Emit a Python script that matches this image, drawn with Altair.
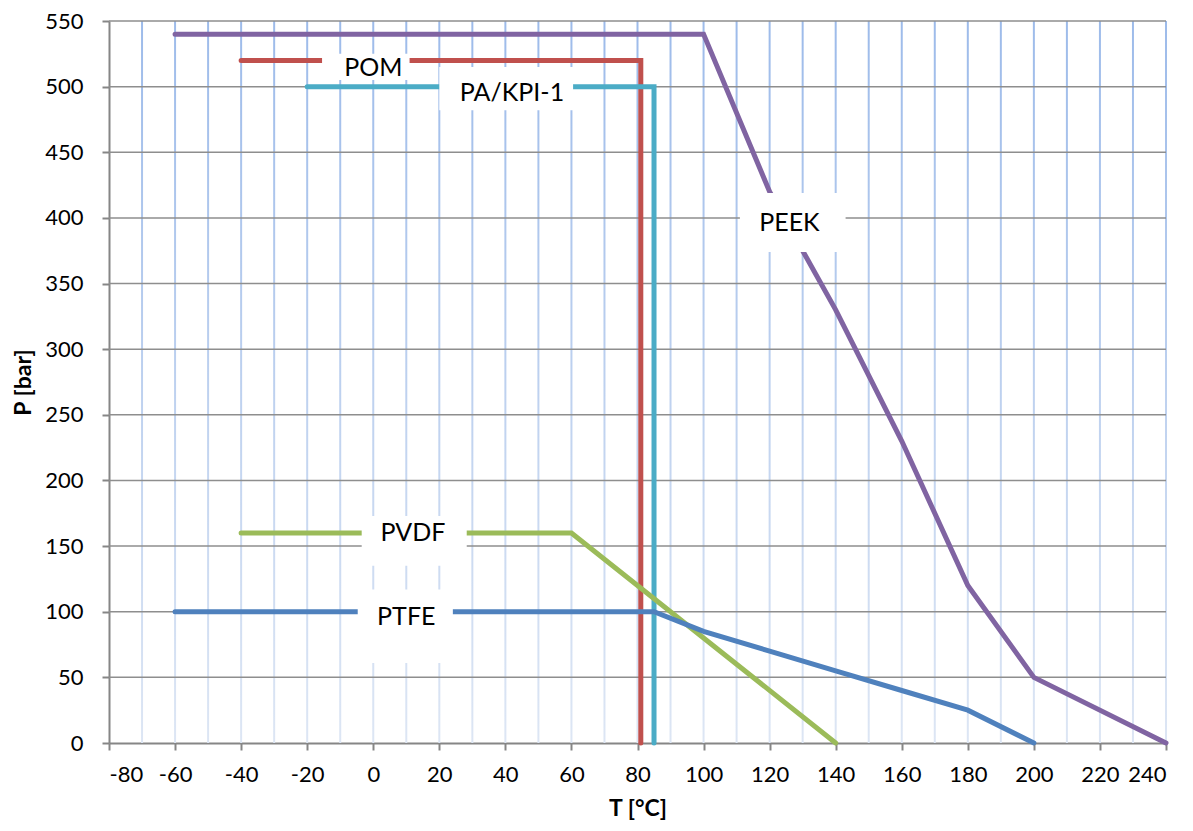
import altair as alt
import pandas as pd

# ---- data ----
peek_t = [-60, 100, 120, 140, 160, 180, 200, 240]
peek_p = [540, 540, 420, 330, 230, 120, 50, 0]

pom_t = [-40, 81, 81]
pom_p = [520, 520, 0]

pa_t = [-20, 85, 85]
pa_p = [500, 500, 0]

pvdf_t = [-40, 60, 140]
pvdf_p = [160, 160, 0]

ptfe_t = [-60, 85, 100, 120, 140, 160, 180, 200]
ptfe_p = [100, 100, 85, 70, 55, 40, 25, 0]

series_names = ["PEEK", "POM", "PA/KPI-1", "PVDF", "PTFE"]
series_colors = ["#8064A2", "#C0504D", "#4BACC6", "#9BBB59", "#4F81BD"]

# label texts and the white boxes behind them (data units)
label_text = ["POM", "PA/KPI-1", "PEEK", "PVDF", "PTFE"]
label_t = [0, 42, 126, 12, 10]
label_p = [514, 495, 396, 160, 96]
box_t1 = [-15.5, 20, 111, -3.5, -4.7]
box_t2 = [11, 60.5, 143, 28.3, 24.1]
box_p1 = [505, 482, 374, 135, 61]
box_p2 = [525, 515, 419, 173, 117]

x_ticks = list(range(-80, 241, 20))
x_grid = list(range(-70, 241, 10))
y_ticks = list(range(0, 551, 50))
y_grid = list(range(50, 551, 50))

rows = []
for name, ts, ps in [("PEEK", peek_t, peek_p), ("POM", pom_t, pom_p),
                     ("PA/KPI-1", pa_t, pa_p), ("PVDF", pvdf_t, pvdf_p),
                     ("PTFE", ptfe_t, ptfe_p)]:
    for i, (t, p) in enumerate(zip(ts, ps)):
        rows.append({"series": name, "T": t, "P": p, "order": i})
df = pd.DataFrame(rows)

labels = pd.DataFrame({"text": label_text, "T": label_t, "P": label_p,
                       "t1": box_t1, "t2": box_t2, "p1": box_p1, "p2": box_p2})
vgrid = pd.DataFrame({"T": x_grid, "top": [550] * len(x_grid), "bottom": [0] * len(x_grid)})
hgrid = pd.DataFrame({"P": y_grid})

FONT = "Lato"

x_scale = alt.Scale(domain=[-80, 240], nice=False, zero=False, padding=0)
y_scale = alt.Scale(domain=[0, 550], nice=False, padding=0)

x_axis = alt.Axis(
    title="T [°C]", values=x_ticks,
    labelExpr="'' + datum.value",
    grid=False, labelPadding=14, titlePadding=12,
)
y_axis = alt.Axis(
    title="P [bar]", values=y_ticks, grid=False,
    labelPadding=19, titlePadding=9,
)

grad = alt.LinearGradient(
    gradient="linear", x1=0, y1=0, x2=0, y2=1,
    stops=[alt.GradientStop(color="#9DBBEA", offset=0),
           alt.GradientStop(color="#DDE6F4", offset=1)],
)

vlines = alt.Chart(vgrid).mark_bar(size=2, color=grad).encode(
    x=alt.X("T:Q", scale=x_scale, axis=x_axis),
    y=alt.Y("top:Q", scale=y_scale, axis=y_axis),
    y2="bottom:Q",
)

hlines = alt.Chart(hgrid).mark_rule(color="#8E8E8E", strokeWidth=1.5).encode(
    y=alt.Y("P:Q", scale=y_scale),
)

lines = alt.Chart(df).mark_line(strokeWidth=5, strokeCap="round", strokeJoin="miter").encode(
    x=alt.X("T:Q", scale=x_scale),
    y=alt.Y("P:Q", scale=y_scale),
    color=alt.Color("series:N", scale=alt.Scale(domain=series_names, range=series_colors), legend=None),
    order="order:Q",
    detail="series:N",
)

boxes = alt.Chart(labels).mark_rect(color="white").encode(
    x="t1:Q", x2="t2:Q", y="p1:Q", y2="p2:Q",
)

texts = alt.Chart(labels).mark_text(font=FONT, fontSize=25, color="black",
                                    align="center", baseline="middle").encode(
    x="T:Q", y="P:Q", text="text:N",
)

chart = alt.layer(vlines, hlines, lines, boxes, texts).properties(
    width=1057, height=722,
    autosize="none",
    padding={"left": 101, "top": 13, "right": 19, "bottom": 80},
).configure_view(stroke=None).configure_axis(
    labelFont=FONT, labelFontSize=22, labelColor="black",
    titleFont=FONT, titleFontSize=23, titleFontWeight="bold", titleColor="black",
    domainColor="#868686", domainWidth=2, tickColor="#868686", tickWidth=2, tickSize=7,
)

chart.save("out.html", embed_options={"renderer": "svg", "actions": False})
